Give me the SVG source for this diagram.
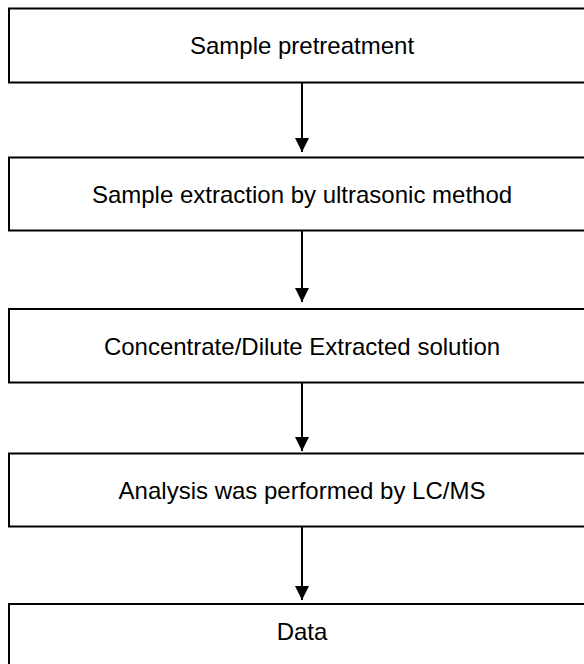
<svg xmlns="http://www.w3.org/2000/svg" width="584" height="664" viewBox="0 0 584 664">
<style>
.box{fill:#fff;stroke:#000;stroke-width:2}
.lbl{font-family:"Liberation Sans",Arial,sans-serif;font-size:24px;fill:#000;text-anchor:middle}
.conn{stroke:#000;stroke-width:2;fill:none}
</style>
<defs>
<marker id="ah" markerWidth="14" markerHeight="15" refX="14" refY="7" orient="auto" markerUnits="userSpaceOnUse">
<path d="M0,0 L14,7 L0,14 Z" fill="#000"/>
</marker>
</defs>
<rect width="584" height="664" fill="#fff"/>
<g id="connectors">
<line class="conn" x1="302" y1="83" x2="302" y2="152" marker-end="url(#ah)"/>
<line class="conn" x1="302" y1="231" x2="302" y2="302" marker-end="url(#ah)"/>
<line class="conn" x1="302" y1="383" x2="302" y2="451" marker-end="url(#ah)"/>
<line class="conn" x1="302" y1="527" x2="302" y2="600" marker-end="url(#ah)"/>
</g>
<g id="n1"><rect class="box" x="9" y="8.5" width="600" height="74"/><text class="lbl" x="302" y="53.5">Sample pretreatment</text></g>
<g id="n2"><rect class="box" x="9" y="157.5" width="600" height="73"/><text class="lbl" x="302" y="202.5">Sample extraction by ultrasonic method</text></g>
<g id="n3"><rect class="box" x="9" y="309" width="600" height="73.5"/><text class="lbl" x="302" y="354.5">Concentrate/Dilute Extracted solution</text></g>
<g id="n4"><rect class="box" x="9" y="453.5" width="600" height="73"/><text class="lbl" x="302" y="498.5">Analysis was performed by LC/MS</text></g>
<g id="n5"><rect class="box" x="9" y="604" width="600" height="74"/><text class="lbl" x="302" y="640">Data</text></g>
</svg>
